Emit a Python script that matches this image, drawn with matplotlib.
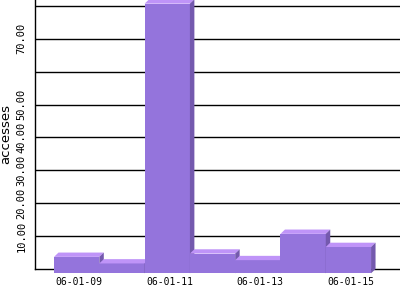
import matplotlib
matplotlib.use("Agg")
import matplotlib.pyplot as plt
from matplotlib.patches import Polygon
import numpy as np

dates = ["06-01-09", "06-01-10", "06-01-11", "06-01-12", "06-01-13", "06-01-14", "06-01-15"]
accesses = [5, 3, 82, 6, 4, 12, 8]
ytick_vals = [10, 20, 30, 40, 50, 60, 70, 80]
ytick_labels = ["10.00", "20.00", "30.00", "40.00", "50.00", "", "70.00", ""]
xtick_idx = [0, 2, 4, 6]

front_c = "#9474DC"
top_c = "#BF94F8"
side_c = "#7459AE"

fig = plt.figure(figsize=(4, 3), dpi=100)
ax = fig.add_axes([35/400, 31/300, 365/400, 269/300])

xs = np.arange(len(dates))
ddx = 0.099   # depth in x data units
ddy = 1.31    # depth in y data units

ax.set_xlim(-1.019, 7.04)
ax.set_ylim(0, 81.8)

for i, v in enumerate(accesses):
    z = 3 + i * 0.1
    ax.bar(xs[i] - ddx, v, width=1.0, bottom=-ddy, color=front_c,
           edgecolor="none", zorder=z, clip_on=False)
    x0 = xs[i] - 0.5
    x1 = xs[i] + 0.5
    top = Polygon([(x0 - ddx, v - ddy), (x1 - ddx, v - ddy), (x1, v), (x0, v)],
                  closed=True, facecolor=top_c, edgecolor="none", zorder=z, clip_on=False)
    side = Polygon([(x1 - ddx, -ddy), (x1, 0), (x1, v), (x1 - ddx, v - ddy)],
                   closed=True, facecolor=side_c, edgecolor="none", zorder=z, clip_on=False)
    ax.add_patch(top)
    ax.add_patch(side)

for y in ytick_vals:
    ax.axhline(y, color="black", lw=1.0, zorder=1)

ax.set_yticks(ytick_vals)
ax.set_yticklabels(ytick_labels, rotation=90, va="center", family="DejaVu Sans Mono", fontsize=7.5)
ax.set_xticks([xs[i] - ddx / 2 for i in xtick_idx])
ax.set_xticklabels([dates[i] for i in xtick_idx], family="DejaVu Sans Mono", fontsize=7)
ax.tick_params(axis="both", length=0)
ax.tick_params(axis="y", pad=6)
ax.tick_params(axis="x", pad=6)

ax.set_ylabel("accesses", fontsize=9.5, labelpad=3)

for s in ["top", "right"]:
    ax.spines[s].set_visible(False)
ax.spines["left"].set_color("black")
ax.spines["bottom"].set_color("black")
ax.spines["left"].set_linewidth(1.0)
ax.spines["bottom"].set_linewidth(1.0)
ax.spines["bottom"].set_zorder(2)

fig.savefig("out.png", dpi=100)
